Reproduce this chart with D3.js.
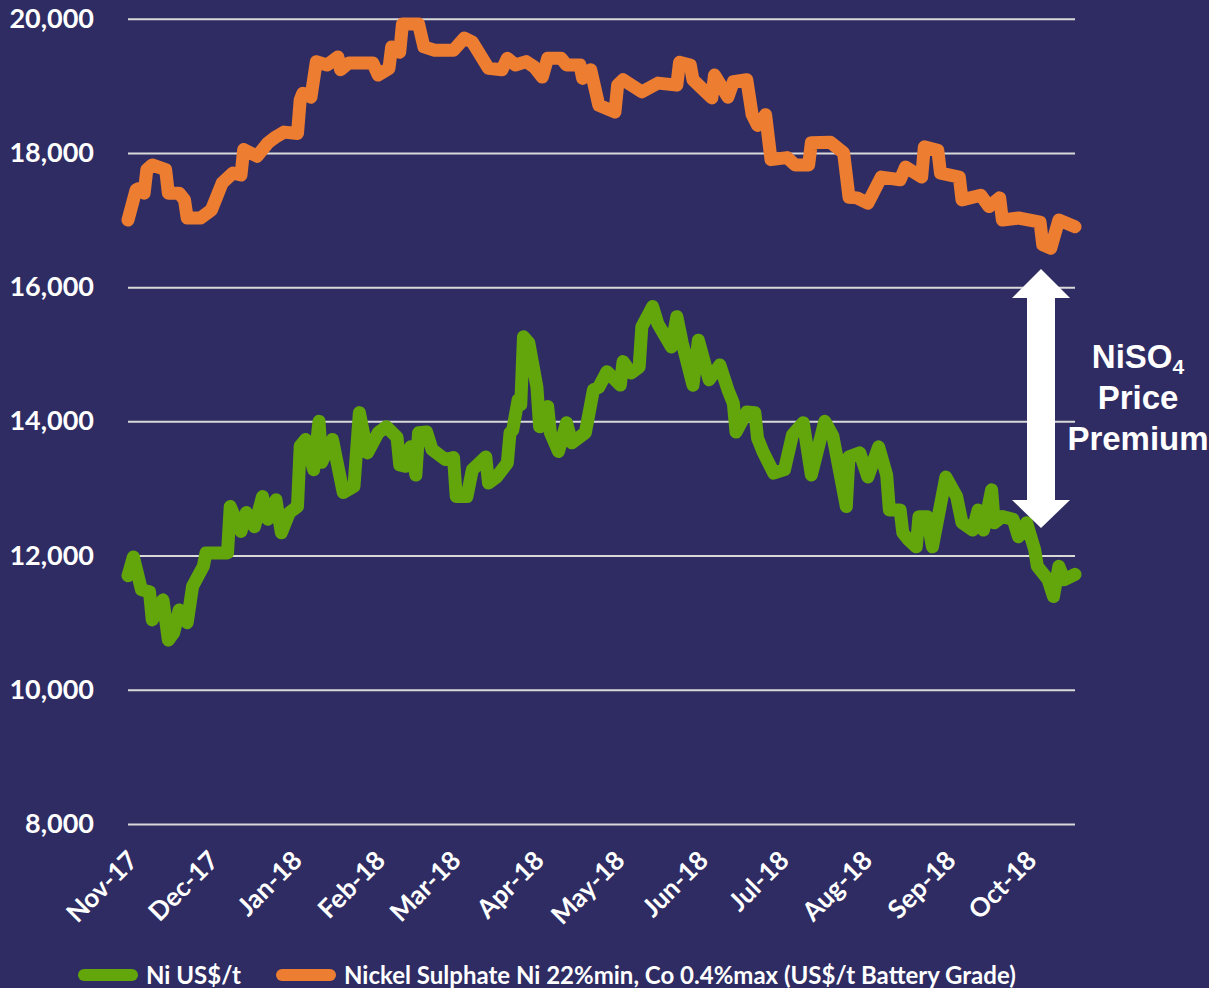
<!doctype html>
<html>
  <head>
    <meta charset="UTF-8">
    <title>Ni vs NiSO4</title>
    <style>
      body { margin: 0; background: #2e2c63; }
      svg { display: block; }
      .axis text { fill: #fff; font-family: Lato, "Open Sans", sans-serif; font-weight: bold; }
      .grid line { stroke: #d9d9d9; stroke-width: 2px; }
      .legend text { fill: #fff; font-family: Lato, sans-serif; font-weight: bold; font-size: 24px; }
      .note { fill: #fff; font-family: "Liberation Sans", Arial, sans-serif; font-weight: bold; font-size: 33px; }
    </style>
  </head>
  <body>
    <svg id="chart" width="1209" height="988"></svg>
    <script src="https://d3js.org/d3.v7.min.js"></script>
    <script>
      // Ni LME price (US$/t), day offsets from 1 Nov 2017
      const niDays = [0,2,5,8,9,13,15,17,19,22,24,28,29,34,37,38,42,44,47,50,52,55,57,60,63,64,66,69,71,72,76,80,84,86,89,93,96,100,101,103,105,107,108,111,113,118,121,122,126,128,133,134,137,141,142,143,145,146,147,149,152,153,156,157,160,163,165,170,173,175,178,183,184,187,190,191,195,197,202,204,206,210,212,216,220,223,225,226,230,233,234,236,240,244,247,251,254,259,262,267,268,272,275,279,282,283,287,288,290,293,294,297,299,304,308,310,314,316,318,321,322,325,329,331,334,337,338,342,344,346,348,352];
      const niValues = [11700,11980,11490,11460,11040,11340,10740,10850,11190,11000,11540,11840,12040,12040,12040,12730,12360,12640,12430,12880,12540,12830,12340,12640,12730,13630,13730,13280,14000,13390,13730,12940,13030,14130,13530,13830,13920,13760,13350,13330,13620,13200,13830,13840,13580,13430,13460,12880,12880,13280,13470,13080,13170,13380,13830,13870,14320,14250,15260,15170,14510,13920,14220,13830,13550,13980,13680,13830,14470,14510,14740,14540,14890,14720,14810,15410,15710,15450,15110,15560,15170,14540,15210,14620,14840,14470,14270,13840,14140,14130,13750,13550,13230,13280,13800,13980,13200,14000,13780,12730,13470,13530,13170,13620,13200,12680,12680,12340,12240,12130,12580,12580,12130,13170,12880,12490,12380,12680,12380,12980,12490,12580,12540,12280,12490,12090,11840,11640,11390,11840,11640,11720];

      // Nickel sulphate battery grade (US$/t), day offsets from 1 Nov 2017
      const nsDays = [0,3,4,6,7,9,14,15,19,21,22,27,31,35,39,42,43,48,52,55,58,63,64,65,68,70,74,78,79,82,91,93,97,98,101,102,108,110,114,121,125,128,134,139,141,144,148,151,154,156,161,163,168,169,172,175,181,182,184,191,197,204,205,209,210,217,218,223,225,230,232,234,237,239,245,248,253,254,261,266,268,271,275,280,287,289,295,296,301,302,309,310,317,320,324,325,331,339,340,343,346,352];
      const nsValues = [17000,17450,17470,17400,17750,17820,17750,17400,17400,17300,17030,17030,17150,17550,17700,17670,18050,17950,18150,18240,18310,18290,18790,18890,18830,19360,19310,19430,19240,19340,19340,19160,19260,19580,19500,19920,19920,19580,19530,19530,19710,19650,19260,19240,19410,19310,19360,19280,19130,19410,19410,19310,19310,19110,19240,18710,18610,19010,19090,18910,19040,19010,19350,19310,19090,18820,19160,18830,19060,19090,18570,18410,18570,17900,17930,17820,17820,18150,18160,18000,17340,17330,17250,17640,17600,17790,17640,18090,18040,17700,17640,17300,17370,17200,17330,17000,17030,16970,16630,16580,17000,16900];

      const yTicks = [8000, 10000, 12000, 14000, 16000, 18000, 20000];
      const seriesNames = ["Ni US$/t", "Nickel Sulphate Ni 22%min, Co 0.4%max (US$/t Battery Grade)"];
      const seriesColors = ["#62a60b", "#ed7d31"];

      const start = new Date(2017, 10, 1);
      const end = new Date(2018, 9, 19);

      const svg = d3.select("#chart");
      svg.append("rect").attr("width", 1209).attr("height", 988).attr("fill", "#2e2c63");

      const x = d3.scaleTime().domain([start, end]).range([128, 1075]);
      const y = d3.scaleLinear().domain([8000, 20000]).range([824, 18.7]);

      // gridlines + y labels
      const yAxis = svg.append("g")
        .attr("class", "axis grid")
        .attr("transform", "translate(128,0)")
        .call(d3.axisLeft(y).tickValues(yTicks).tickSize(-947).tickPadding(34).tickFormat(d3.format(",")));
      yAxis.select(".domain").remove();
      yAxis.selectAll("text").style("font-size", "27px");

      // month labels
      const months = d3.timeMonth.range(start, end);
      const xAxis = svg.append("g")
        .attr("class", "axis")
        .attr("transform", "translate(0,824)")
        .call(d3.axisBottom(x).tickValues(months).tickSize(0).tickFormat(d3.timeFormat("%b-%y")));
      xAxis.select(".domain").remove();
      xAxis.selectAll("text")
        .style("font-size", "26px")
        .attr("text-anchor", "end")
        .attr("dy", null)
        .attr("y", 0)
        .attr("transform", "translate(11,38) rotate(-45)");

      const line = d3.line()
        .x(d => x(d3.timeDay.offset(start, d[0])))
        .y(d => y(d[1]));

      const niData = niDays.map((d, i) => [d, niValues[i]]);
      const nsData = nsDays.map((d, i) => [d, nsValues[i]]);

      [niData, nsData].forEach((data, i) => {
        svg.append("path")
          .datum(data)
          .attr("fill", "none")
          .attr("stroke", seriesColors[i])
          .attr("stroke-width", 13)
          .attr("stroke-linejoin", "round")
          .attr("stroke-linecap", "round")
          .attr("d", line);
      });

      // premium arrow
      const ax = 1041;
      const arrow = d3.path();
      arrow.moveTo(ax, 269);
      arrow.lineTo(ax + 29, 298);
      arrow.lineTo(ax + 14, 298);
      arrow.lineTo(ax + 14, 500);
      arrow.lineTo(ax + 29, 500);
      arrow.lineTo(ax, 528);
      arrow.lineTo(ax - 29, 500);
      arrow.lineTo(ax - 14, 500);
      arrow.lineTo(ax - 14, 298);
      arrow.lineTo(ax - 29, 298);
      arrow.closePath();
      svg.append("path").attr("d", arrow.toString()).attr("fill", "#fff");

      const note = svg.append("text").attr("class", "note").attr("text-anchor", "middle");
      const t1 = note.append("tspan").attr("x", 1138).attr("y", 368);
      t1.append("tspan").text("NiSO");
      t1.append("tspan").text("4").attr("font-size", "21px").attr("dy", 6);
      note.append("tspan").attr("x", 1138).attr("y", 409).text("Price");
      note.append("tspan").attr("x", 1138).attr("y", 450).text("Premium");

      // legend
      const legend = svg.append("g").attr("class", "legend");
      const legendX = [84, 282];
      seriesNames.forEach((name, i) => {
        legend.append("line")
          .attr("x1", legendX[i]).attr("x2", legendX[i] + 48)
          .attr("y1", 975).attr("y2", 975)
          .attr("stroke", seriesColors[i])
          .attr("stroke-width", 12)
          .attr("stroke-linecap", "round");
        legend.append("text")
          .attr("x", legendX[i] + 62).attr("y", 984)
          .text(name);
      });
    </script>
  </body>
</html>
